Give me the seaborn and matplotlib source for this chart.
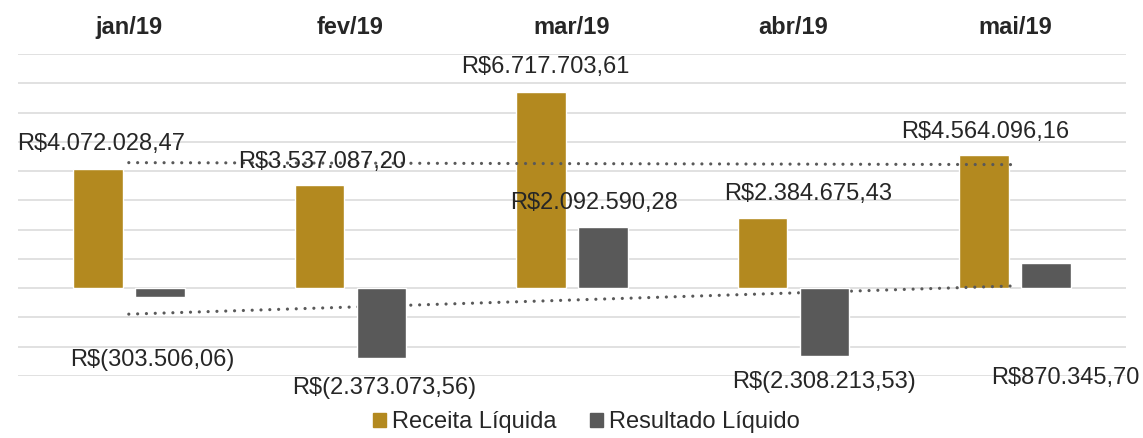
import numpy as np
import pandas as pd
import matplotlib
matplotlib.use("Agg")
import matplotlib.pyplot as plt
from matplotlib.patches import Rectangle
import seaborn as sns

# ---- data ----
categories = ["jan/19", "fev/19", "mar/19", "abr/19", "mai/19"]
receita = [4072028.47, 3537087.20, 6717703.61, 2384675.43, 4564096.16]
resultado = [-303506.06, -2373073.56, 2092590.28, -2308213.53, 870345.70]
series_names = ["Receita Líquida", "Resultado Líquido"]

colors = ["#B3891F", "#595959"]

# label offsets in pixels (dx, dy) relative to bar end
rec_offsets = [(3, 25), (3, 23), (4, 25), (46, 24), (1, 23)]
res_offsets = [(-8, -63), (3, -30), (-9, 24), (-1, -26), (19, -115)]

df = pd.DataFrame({
    "mes": categories * 2,
    "valor": receita + resultado,
    "serie": [series_names[0]] * 5 + [series_names[1]] * 5,
})

sns.set_theme(style="white")
plt.rcParams["font.family"] = ["Liberation Sans", "DejaVu Sans"]

fig = plt.figure(figsize=(11.43, 4.38), dpi=100)
ax = fig.add_axes([18 / 1143, 1 - 376 / 438, 1108 / 1143, (376 - 54) / 438])

sns.barplot(data=df, x="mes", y="valor", hue="serie", palette=colors,
            width=0.56, gap=0.2, dodge=True, ax=ax, legend=False,
            saturation=1)

ax.set_ylim(-3e6, 8e6)
ax.set_xlim(-0.5, 4.5)
ax.set_yticks(np.arange(-3e6, 8e6 + 1, 1e6))
ax.set_yticklabels([])
ax.tick_params(axis="y", length=0)
ax.yaxis.grid(True, color="#D9D9D9", lw=1.1)
ax.set_axisbelow(True)
for s in ax.spines.values():
    s.set_visible(False)
ax.set_xlabel("")
ax.set_ylabel("")
ax.xaxis.tick_top()
ax.tick_params(axis="x", length=0, pad=11, labelsize=17)
for t in ax.get_xticklabels():
    t.set_fontweight("bold")
    t.set_color("#262626")

# zorders
for p in ax.containers[0]:
    p.set_zorder(2)
for p in ax.containers[1]:
    p.set_zorder(4)

# trend lines (linear regression on data)
xs = np.arange(len(categories))
for vals in (receita, resultado):
    m, b = np.polyfit(xs, vals, 1)
    ax.plot(xs, m * xs + b, color="#595959", lw=2.3,
            linestyle=(0, (0.01, 2.75)), dash_capstyle="round", zorder=3)


def fmt(v):
    s = f"{abs(v):,.2f}".replace(",", "X").replace(".", ",").replace("X", ".")
    return f"R$({s})" if v < 0 else f"R${s}"


px2pt = 72 / 100
for cont, vals, offs in [(ax.containers[0], receita, rec_offsets),
                         (ax.containers[1], resultado, res_offsets)]:
    for patch, v, (dx, dy) in zip(cont, vals, offs):
        xc = patch.get_x() + patch.get_width() / 2
        ax.annotate(fmt(v), xy=(xc, v), xytext=(dx * px2pt, dy * px2pt),
                    textcoords="offset points", ha="center", va="center",
                    fontsize=17, color="#262626", zorder=5)

handles = [Rectangle((0, 0), 1, 1, color=c) for c in colors]
fig.legend(handles, series_names, loc="center", bbox_to_anchor=(0.513, 0.036),
           ncol=2, frameon=False, fontsize=17, handlelength=0.55,
           handleheight=0.55, handletextpad=0.25, columnspacing=1.4,
           labelcolor="#262626", borderpad=0)

fig.savefig("out.png", dpi=100)
